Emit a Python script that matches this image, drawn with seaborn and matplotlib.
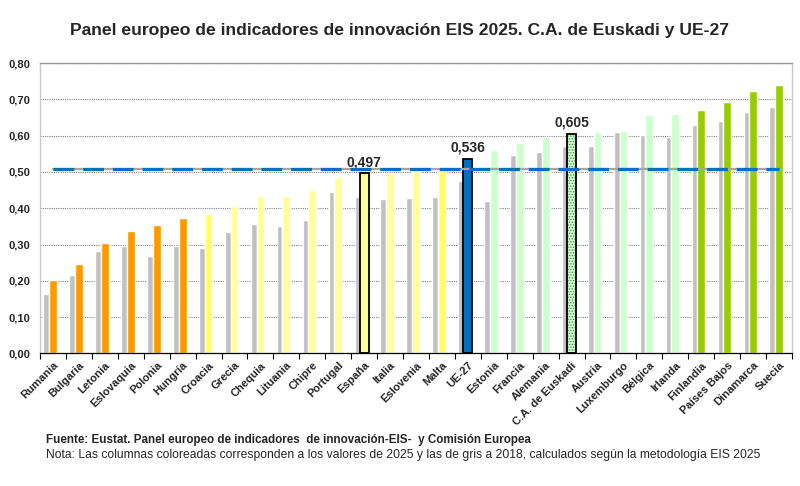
import numpy as np
import pandas as pd
import matplotlib
matplotlib.use("Agg")
import matplotlib.pyplot as plt
import seaborn as sns
from matplotlib.patches import Rectangle
from matplotlib.ticker import FuncFormatter


paises = [
    "Rumania", "Bulgaria", "Letonia", "Eslovaquia", "Polonia", "Hungría",
    "Croacia", "Grecia", "Chequia", "Lituania", "Chipre", "Portugal",
    "España", "Italia", "Eslovenia", "Malta", "UE-27", "Estonia", "Francia",
    "Alemania", "C.A. de Euskadi", "Austria", "Luxemburgo", "Bélgica",
    "Irlanda", "Finlandia", "Países Bajos", "Dinamarca", "Suecia",
]

valores_2025 = [
    0.202, 0.246, 0.304, 0.337, 0.354, 0.372,
    0.385, 0.407, 0.433, 0.434, 0.451, 0.486,
    0.497, 0.498, 0.505, 0.505, 0.536, 0.561, 0.581,
    0.596, 0.605, 0.611, 0.613, 0.657,
    0.659, 0.672, 0.692, 0.724, 0.740,
]

valores_2018 = [
    0.164, 0.216, 0.281, 0.297, 0.268, 0.295,
    0.291, 0.334, 0.356, 0.351, 0.367, 0.444,
    0.431, 0.425, 0.428, 0.430, 0.476, 0.419, 0.546,
    0.554, 0.572, 0.571, 0.610, 0.601,
    0.596, 0.630, 0.641, 0.666, 0.679,
]

naranja, amarillo, amarillo_claro = "#FF9900", "#FFFF66", "#FFFF99"
verde_claro, verde, azul = "#CCFFCC", "#99CC00", "#0070C0"
colores_2025 = (
    [naranja] * 6 + [amarillo] + [amarillo_claro] * 8 + [amarillo] + [azul]
    + [verde_claro] * 8 + [verde] * 4
)

destacados = ["España", "UE-27", "C.A. de Euskadi"]
linea_ref = 0.509

sns.set_theme(style="white")
plt.rcParams["font.family"] = ["Liberation Sans", "DejaVu Sans"]
plt.rcParams["hatch.linewidth"] = 0.6

n = len(paises)
df = pd.DataFrame({
    "pais": paises,
    "pos": np.arange(n),
    "v2025": valores_2025,
    "v2018": valores_2018,
})
df["pos_2018"] = df["pos"] - 0.26

fig = plt.figure(figsize=(8, 4.86), dpi=100)
ax = fig.add_axes([0.05, 0.273, 0.94, 0.597])

sns.barplot(data=df, x="pos_2018", y="v2018", native_scale=True, width=0.22,
            color="#C0C0C0", saturation=1, ax=ax)
sns.barplot(data=df, x="pos", y="v2025", hue="pais", palette=colores_2025,
            native_scale=True, width=0.30, saturation=1, legend=False, ax=ax)

# barras destacadas: borde negro y etiqueta de valor
for nombre in destacados:
    i = paises.index(nombre)
    bar = ax.containers[1 + i][0]
    bar.set_x(i - 0.17)
    bar.set_width(0.34)
    if nombre == "C.A. de Euskadi":
        bar.set_edgecolor("#4f7f4f")
        bar.set_linewidth(0)
        bar.set_hatch("......")
        ax.add_patch(Rectangle((i - 0.17, 0), 0.34, valores_2025[i], fill=False,
                               edgecolor="black", linewidth=1.3, zorder=3))
    else:
        bar.set_edgecolor("black")
        bar.set_linewidth(1.3)
    ax.text(i, valores_2025[i] + 0.011, f"{valores_2025[i]:.3f}".replace(".", ","),
            ha="center", va="bottom", fontsize=10, fontweight="bold")

ax.plot([0, n - 1], [linea_ref, linea_ref], color="#A6A6A6", lw=1.6, zorder=5)
ax.plot([0, n - 1], [linea_ref, linea_ref], color=azul, lw=2.3,
        dashes=(6.5, 2.8), dash_capstyle="butt", zorder=6)

ax.set_xlim(-0.5, n - 0.5)
ax.set_ylim(0, 0.8)
ax.set_yticks(np.arange(0, 0.81, 0.1))
ax.yaxis.set_major_formatter(FuncFormatter(lambda v, p: f"{v:.2f}".replace(".", ",")))
ax.yaxis.grid(True, linestyle=(0, (1, 1)), color="#808080", linewidth=0.8)
ax.set_axisbelow(True)

ax.set_xticks(np.arange(n))
ax.set_xticklabels(paises, rotation=45, ha="right", rotation_mode="anchor")
ax.set_xticks(np.arange(n + 1) - 0.5, minor=True)
ax.tick_params(axis="x", which="major", length=0, pad=5, labelsize=8)
ax.tick_params(axis="x", which="minor", length=4, width=0.8, color="black",
               direction="out", bottom=True)
ax.tick_params(axis="y", length=0, pad=7, labelsize=8)
for lab in ax.get_xticklabels() + ax.get_yticklabels():
    lab.set_fontweight("bold")

ax.set_xlabel("")
ax.set_ylabel("")
ax.spines["bottom"].set_color("black")
ax.spines["bottom"].set_linewidth(0.9)
ax.spines["top"].set_color("#999999")
ax.spines["left"].set_color("#C8C8C8")
ax.spines["right"].set_color("#C8C8C8")
for s in ["top", "left", "right"]:
    ax.spines[s].set_linewidth(1.0)

fig.text(0.5, 1 - 30 / 486,
         "Panel europeo de indicadores de innovación EIS 2025. C.A. de Euskadi y UE-27",
         ha="center", va="center", fontsize=12.6, fontweight="bold")
fig.text(46 / 800, 1 - 440 / 486,
         "Fuente: Eustat. Panel europeo de indicadores  de innovación-EIS-  y Comisión Europea",
         ha="left", va="center", fontsize=8.35, fontweight="bold")
fig.text(46 / 800, 1 - 455 / 486,
         "Nota: Las columnas coloreadas corresponden a los valores de 2025 y las de gris a 2018, "
         "calculados según la metodología EIS 2025",
         ha="left", va="center", fontsize=8.7)

fig.savefig("out.png", dpi=100)
